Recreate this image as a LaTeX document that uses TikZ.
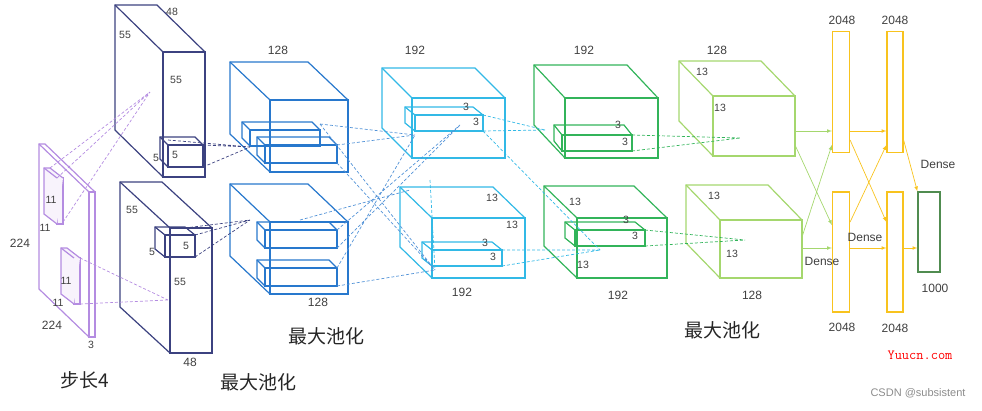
\documentclass[tikz,border=0pt]{standalone}
\usepackage{fontspec}
\setmainfont{Liberation Sans}
\newfontfamily\cjk{Noto Sans CJK SC}
\definecolor{inpurple}{RGB}{180,140,225}
\definecolor{navy}{RGB}{60,66,128}
\definecolor{convblue}{RGB}{40,120,205}
\definecolor{convcyan}{RGB}{50,185,230}
\definecolor{convgreen}{RGB}{50,180,90}
\definecolor{lightgreen}{RGB}{165,215,110}
\definecolor{denseyel}{RGB}{248,195,30}
\definecolor{outgreen}{RGB}{80,140,80}
\tikzset{
  num/.style={font=\fontsize{10.5}{11}\selectfont, text=black!75, inner sep=1pt},
  bignum/.style={num, font=\fontsize{12}{13}\selectfont},
  captext/.style={font=\cjk\fontsize{19}{21}\selectfont, text=black!85},
  link/.style={densely dashed, line width=0.7pt},
  feed/.style={->, >=latex, line width=0.7pt},
}
% front top-left (x,y), width, height, depth dx, dy, colour
\newcommand\cuboid[7]{
  \draw[#7] (#1,#2) rectangle ({#1+#3},{#2+#4});
  \draw[#7] (#1,{#2+#4}) -- ({#1-#5},{#2+#4-#6}) -- ({#1-#5},{#2-#6})
        -- ({#1+#3-#5},{#2-#6}) -- ({#1+#3},#2);
  \draw[#7] ({#1-#5},{#2-#6}) -- (#1,#2);
}
\begin{document}
\begin{tikzpicture}[x=1pt, y=-1pt, line width=1.2pt]
\useasboundingbox (0,0) rectangle (982,410);
% input
\cuboid{89}{192}{6}{145}{50}{48}{inpurple}
\cuboid{57}{178}{6}{46}{13}{10}{inpurple, fill=inpurple!10}
\cuboid{74}{258}{6}{46}{13}{10}{inpurple, fill=inpurple!10}
\node[num] (i1) at (51,200) {11};
\node[num] (i2) at (45,228) {11};
\node[num] (i3) at (66,281) {11};
\node[num] (i4) at (58,303) {11};
\node[bignum] (i5) at (20,243) {224};
\node[bignum] (i6) at (52,325) {224};
\node[num] (i7) at (91,345) {3};
% conv1
\cuboid{163}{52}{42}{125}{48}{47}{navy}
\cuboid{168}{145}{35}{22}{8}{8}{navy}
\cuboid{170}{228}{42}{125}{50}{46}{navy}
\cuboid{165}{235}{30}{22}{10}{8}{navy}
\node[num] (a1) at (172,12) {48};
\node[num] (a2) at (125,35) {55};
\node[num] (a3) at (176,80) {55};
\node[num] (a4) at (175,155) {5};
\node[num] (a5) at (156,158) {5};
\node[num] (a6) at (132,210) {55};
\node[num] (a7) at (180,282) {55};
\node[bignum] (a8) at (190,362) {48};
\node[num] (a9) at (186,246) {5};
\node[num] (a10) at (152,252) {5};
% conv2
\cuboid{270}{100}{78}{72}{40}{38}{convblue}
\cuboid{250}{130}{70}{16}{8}{8}{convblue}
\cuboid{265}{145}{72}{18}{8}{8}{convblue}
\cuboid{270}{222}{78}{72}{40}{38}{convblue}
\cuboid{265}{230}{72}{18}{8}{8}{convblue}
\cuboid{265}{268}{72}{18}{8}{8}{convblue}
\node[bignum] (b1) at (278,50) {128};
\node[bignum] (b2) at (318,302) {128};
% conv3
\cuboid{412}{98}{93}{60}{30}{30}{convcyan}
\cuboid{415}{115}{68}{16}{10}{8}{convcyan}
\cuboid{432}{218}{93}{60}{32}{31}{convcyan}
\cuboid{432}{250}{70}{16}{10}{8}{convcyan}
\node[bignum] (c1) at (415,50) {192};
\node[num] (c2) at (466,107) {3};
\node[num] (c3) at (476,122) {3};
\node[num] (c4) at (492,198) {13};
\node[num] (c5) at (512,225) {13};
\node[num] (c6) at (485,243) {3};
\node[num] (c7) at (493,257) {3};
\node[bignum] (c8) at (462,292) {192};
% conv4
\cuboid{565}{98}{93}{60}{31}{33}{convgreen}
\cuboid{562}{135}{70}{16}{8}{10}{convgreen}
\cuboid{577}{218}{90}{60}{33}{32}{convgreen}
\cuboid{575}{230}{70}{16}{10}{8}{convgreen}
\node[bignum] (d1) at (584,50) {192};
\node[num] (d2) at (618,125) {3};
\node[num] (d3) at (625,142) {3};
\node[num] (d4) at (575,202) {13};
\node[num] (d5) at (583,265) {13};
\node[num] (d6) at (626,220) {3};
\node[num] (d7) at (635,236) {3};
\node[bignum] (d8) at (618,295) {192};
% conv5
\cuboid{713}{96}{82}{60}{34}{35}{lightgreen}
\cuboid{720}{220}{82}{58}{34}{35}{lightgreen}
\node[bignum] (e1) at (717,50) {128};
\node[num] (e2) at (702,72) {13};
\node[num] (e3) at (720,108) {13};
\node[num] (e4) at (714,196) {13};
\node[num] (e5) at (732,254) {13};
\node[bignum] (e6) at (752,295) {128};
% dense
\node[draw=denseyel, minimum width=17pt, minimum height=121pt, inner sep=0] (f1) at (841,92) {};
\node[draw=denseyel, minimum width=16pt, minimum height=121pt, inner sep=0] (f2) at (895,92) {};
\node[draw=denseyel, minimum width=17pt, minimum height=120pt, inner sep=0] (f3) at (841,252) {};
\node[draw=denseyel, minimum width=16pt, minimum height=120pt, inner sep=0] (f4) at (895,252) {};
\node[draw=outgreen, minimum width=22pt, minimum height=80pt, inner sep=0] (out) at (929,232) {};
\node[bignum] (g1) at (842,20) {2048};
\node[bignum] (g2) at (895,20) {2048};
\node[bignum] (g3) at (842,327) {2048};
\node[bignum] (g4) at (895,328) {2048};
\node[bignum] (g5) at (935,288) {1000};
\node[bignum] (h1) at (938,164) {Dense};
\node[bignum] (h2) at (865,237) {Dense};
\node[bignum] (h3) at (822,261) {Dense};
% dashed links
\coordinate (p1) at (150,92);  \coordinate (p2) at (168,300);
\coordinate (q1) at (250,147); \coordinate (q2) at (250,220);
\coordinate (r1) at (415,135); \coordinate (r2) at (435,270);
\coordinate (r3) at (460,125); \coordinate (r4) at (410,190);
\coordinate (s1) at (545,130); \coordinate (s2) at (600,250);
\coordinate (t1) at (740,138); \coordinate (t2) at (745,240);
\draw[link, inpurple] (50,168) -- (p1) (63,222) -- (p1) (57,178) -- (p1);
\draw[link, inpurple] (80,258) -- (p2) (80,304) -- (p2);
\draw[link, navy] (168,140) -- (q1) (203,145) -- (q1) (203,167) -- (q1);
\draw[link, navy] (185,228) -- (q2) (195,235) -- (q2) (195,257) -- (q2);
\draw[link, convblue!80] (320,124) -- (r1) (337,145) -- (r1) (337,163) -- (r2) (320,124) -- (r2);
\draw[link, convblue!80] (337,230) -- (r3) (337,248) -- (r3) (337,268) -- (r1) (337,286) -- (r2) (300,220) -- (r4);
\draw[link, convcyan] (483,115) -- (s1) (483,131) -- (s1) (483,131) -- (s2);
\draw[link, convcyan] (502,250) -- (s2) (502,266) -- (s2) (430,180) -- (r2);
\draw[link, convgreen] (632,135) -- (t1) (632,151) -- (t1) (645,230) -- (t2) (645,246) -- (t2);
% feed arrows
\draw[feed, lightgreen] (795,131) -- (f1.west |- 0,131);
\draw[feed, lightgreen] (795,145) -- (f3.west |- 0,225);
\draw[feed, lightgreen] (802,237) -- (f1.west |- 0,145);
\draw[feed, lightgreen] (802,248) -- (f3.west |- 0,248);
\draw[feed, denseyel] (f1.east |- 0,131) -- (f2.west |- 0,131);
\draw[feed, denseyel] (f1.east |- 0,140) -- (f4.west |- 0,222);
\draw[feed, denseyel] (f3.east |- 0,222) -- (f2.west |- 0,145);
\draw[feed, denseyel] (f3.east |- 0,248) -- (f4.west |- 0,248);
\draw[feed, denseyel] (f2.east |- 0,140) -- (out.north west);
\draw[feed, denseyel] (f4.east |- 0,248) -- (out.west |- 0,248);
% captions
\node[captext] (k1) at (85,380) {步长4};
\node[captext] (k2) at (258,382) {最大池化};
\node[captext] (k3) at (326,336) {最大池化};
\node[captext] (k4) at (722,330) {最大池化};
\node[font=\ttfamily\fontsize{14}{15}\selectfont, text=red] (w1) at (920,355) {Yuucn.com};
\node[font=\fontsize{11}{12}\selectfont, text=black!45] (w2) at (918,393) {CSDN @subsistent};
\end{tikzpicture}
\end{document}
